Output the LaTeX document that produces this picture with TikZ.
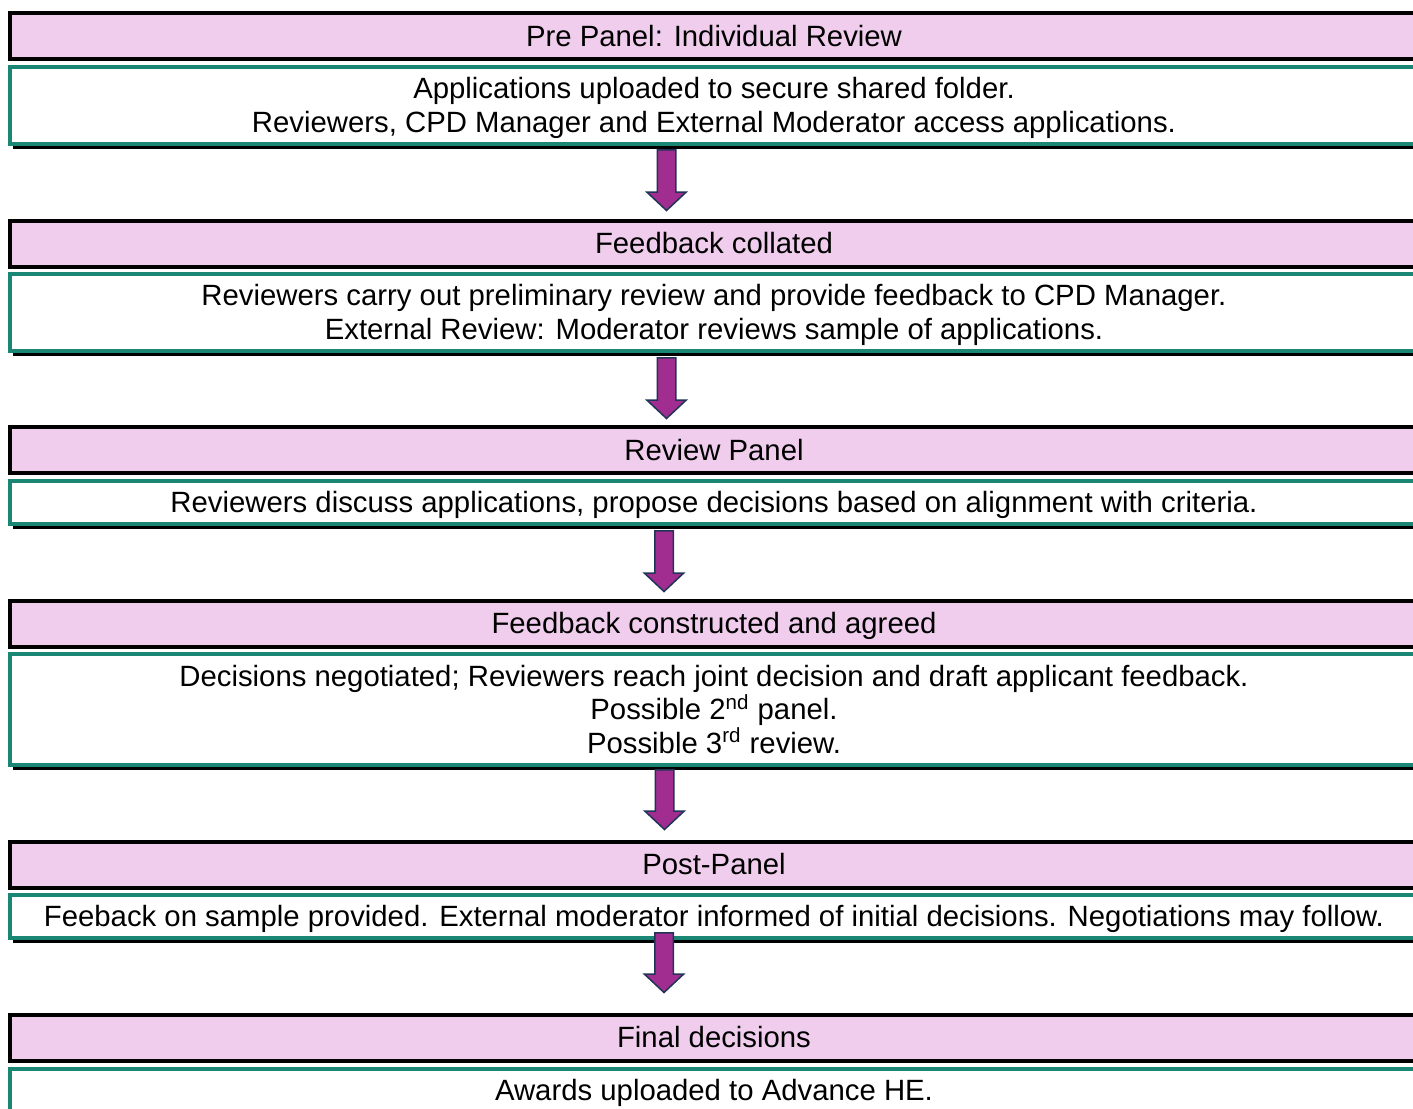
\documentclass[tikz,border=0pt]{standalone}
\usepackage{fontspec}
\setmainfont{Liberation Sans}
\usetikzlibrary{shadows,calc}
\definecolor{hdrpink}{HTML}{F0CDED}
\definecolor{tealline}{HTML}{1A8775}
\definecolor{arrowfill}{HTML}{A02D8F}
\definecolor{arrowline}{HTML}{1F3457}
\newcommand\lnst{\rule[-3.1pt]{0pt}{16.37pt}}
\begin{document}
\begin{tikzpicture}[x=0.5pt,y=-0.5pt,
  txt/.style={font=\fontsize{14.66}{16.75}\selectfont, align=center},
  hdr/.style={txt, draw=black, line width=2pt, fill=hdrpink, minimum width=704pt, minimum height=23pt, inner sep=0pt},
  body/.style={txt, draw=tealline, line width=2pt, fill=white, minimum width=704pt, minimum height=#1, inner sep=0pt,
    drop shadow={shadow xshift=1.5pt, shadow yshift=-2.5pt, fill=black, opacity=1}},
  barrow/.style={draw=arrowline, line width=0.75pt, fill=arrowfill, line join=miter}
]
\useasboundingbox (0,0) rectangle (1413,1108);
\clip (0,0) rectangle (1413,1108);

\node[hdr] (h1) at (714,36) {\lnst Pre Panel: Individual Review};
\node[body=38.5pt] (w1) at (714,105.5) {\lnst Applications uploaded to secure shared folder.\\\lnst Reviewers, CPD Manager and External Moderator access applications.};

\node[hdr] (h2) at (714,243.5) {\lnst Feedback collated};
\node[body=38.5pt] (w2) at (714,312.5) {\lnst Reviewers carry out preliminary review and provide feedback to CPD Manager.\\\lnst External Review: Moderator reviews sample of applications.};

\node[hdr] (h3) at (714,450) {\lnst Review Panel};
\node[body=21.5pt] (w3) at (714,502.5) {\lnst Reviewers discuss applications, propose decisions based on alignment with criteria.};

\node[hdr] (h4) at (714,623.5) {\lnst Feedback constructed and agreed};
\node[body=55.5pt] (w4) at (714,709.5) {\lnst Decisions negotiated; Reviewers reach joint decision and draft applicant feedback.\\\lnst Possible 2\textsuperscript{nd} panel.\\\lnst Possible 3\textsuperscript{rd} review.};

\node[hdr] (h5) at (714,864.5) {\lnst Post-Panel};
\node[body=21.5pt] (w5) at (714,916.5) {\lnst Feeback on sample provided. External moderator informed of initial decisions. Negotiations may follow.};

\node[hdr] (h6) at (714,1037.5) {\lnst Final decisions};
\node[body=21pt] (w6) at (714,1090) {\lnst Awards uploaded to Advance HE.};

\coordinate (a1s) at (666.5,149.75); \coordinate (a1e) at (666.5,210.5);
\coordinate (a2s) at (666.5,357.75); \coordinate (a2e) at (666.5,418.5);
\coordinate (a3s) at (664,530.75);   \coordinate (a3e) at (664,591.5);
\coordinate (a4s) at (664.5,769.75); \coordinate (a4e) at (664.5,829.5);
\coordinate (a5s) at (664,932.75);   \coordinate (a5e) at (664,992.5);

\foreach \a in {a1,a2,a3,a4,a5}{
  \draw[barrow] ($(\a s)+(-9.25,0)$) -- ($(\a s)+(9.25,0)$) -- ($(\a e)+(9.25,-18.5)$) -- ($(\a e)+(19.75,-18.5)$)
    -- (\a e) -- ($(\a e)+(-19.75,-18.5)$) -- ($(\a e)+(-9.25,-18.5)$) -- cycle;
}
\end{tikzpicture}
\end{document}
